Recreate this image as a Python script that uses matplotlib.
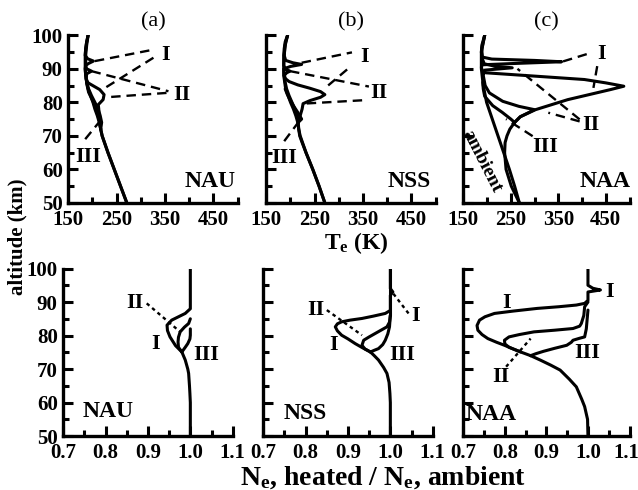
import matplotlib
matplotlib.use("Agg")
import matplotlib.pyplot as plt
from matplotlib.ticker import MultipleLocator, FixedLocator
from matplotlib.transforms import ScaledTranslation

plt.rcParams['font.family'] = ['Liberation Serif', 'DejaVu Serif']
plt.rcParams['font.weight'] = 'bold'
plt.rcParams['mathtext.fontset'] = 'custom'
plt.rcParams['mathtext.rm'] = 'Liberation Serif:bold'
plt.rcParams['mathtext.it'] = 'Liberation Serif:italic:bold'
plt.rcParams['font.size'] = 15

# ---------------- electron temperature (top row) ----------------
# (a) NAU
nau_amb_alt = [50, 55, 60, 65, 70, 72, 74, 76, 78, 80, 82, 84, 86, 88, 90, 92, 94, 96, 98, 100]
nau_amb_te = [271, 258, 245, 232, 220, 217, 214, 210, 205, 201, 196, 191, 188, 186, 185, 185, 185, 186, 188, 191]
nau_base_alt = [50, 55, 60, 65, 70, 72]
nau_base_te = [271, 258, 245, 232, 220, 217]
nau_I_alt = [72, 74, 76, 78, 79.3, 80.8, 82.3, 83.8, 85.8, 87, 88, 90, 91, 91.6, 92.3, 93, 94, 96, 98, 100]
nau_I_te = [217, 215, 213, 213, 212, 222, 224, 215, 191, 187, 186, 185, 186, 192, 202, 190, 185, 186, 188, 191]
nau_II_alt = [72, 74, 75.8, 78, 80, 81.8, 83, 85, 87, 88.5, 89.3, 90, 91, 94, 97, 100]
nau_II_te = [217, 215, 212, 207, 202, 196, 192, 189, 187, 188, 198, 188, 186, 186, 188, 191]
nau_III_alt = [72, 74, 76, 78, 80, 82, 84, 86]
nau_III_te = [217, 219, 216, 212, 205, 198, 192, 188]

# (b) NSS
nss_amb_alt = [50, 55, 60, 65, 70, 72, 74, 76, 78, 80, 82, 84, 86, 88, 90, 92, 94, 96, 98, 100]
nss_amb_te = [271, 259, 246, 232, 220, 217, 215, 211, 206, 200, 195, 190, 188, 186, 186, 186, 186, 187, 189, 194]
nss_base_alt = [50, 55, 60, 65, 68, 70, 72, 74]
nss_base_te = [271, 259, 246, 232, 224, 219, 217, 216]
nss_I_alt = [74, 76, 78, 79.6, 80.5, 81.5, 82.3, 83.2, 84.2, 85.2, 86.2, 87, 88, 90, 90.7, 91.3, 91.8,
             92.5, 94, 96, 98, 100]
nss_I_te = [216, 220, 224, 226, 240, 262, 271, 262, 240, 215, 197, 190, 187, 186, 200, 223, 205,
            190, 187, 188, 190, 194]
nss_II_alt = [74, 76, 78, 80, 82, 84, 86, 88, 88.8, 89.3, 89.8, 91, 94, 97, 100]
nss_II_te = [216, 214, 209, 203, 197, 192, 189, 187, 192, 199, 190, 186, 187, 189, 194]
nss_III_alt = [74, 75, 77, 79, 81, 82.5, 84]
nss_III_te = [216, 223, 215, 206, 198, 193, 189]

# (c) NAA
naa_amb_alt = [50, 55, 60, 65, 70, 75, 80, 85, 90, 95, 100]
naa_amb_te = [268, 258, 247, 235, 223, 211, 199, 192, 188, 188, 195]
naa_base_alt = [50, 55, 60, 65, 68, 70, 72, 74]
naa_base_te = [268, 251, 240, 237, 238, 242, 248, 258]
naa_I_alt = [74, 75.7, 77.8, 80.8, 83.8, 84.8, 85.8, 86.8, 87.8, 88.8, 89.5, 90.5, 91.2, 91.6, 92.1,
             92.5, 92.9, 93.5, 95, 97, 100]
naa_I_te = [258, 270, 302, 370, 460, 488, 450, 405, 302, 198, 190, 188, 190, 260, 357,
            300, 210, 190, 188, 189, 195]
naa_II_alt = [74, 75.7, 77.8, 78.8, 80.3, 82.8, 85, 88, 89.6, 90.3, 90.8, 91.5, 93, 96, 100]
naa_II_te = [258, 270, 300, 267, 233, 205, 196, 192, 195, 253, 215, 194, 190, 189, 195]
naa_III_alt = [74, 75, 77, 79, 81.8, 84, 86]
naa_III_te = [258, 250, 232, 212, 195, 192, 191]

# ---------------- Ne heated / Ne ambient (bottom row) ----------------
# (d) NAU
nau_ne_base_alt = [50, 55, 60, 62.7, 65, 68.7, 70, 72.7, 75.1]
nau_ne_base = [1.0, 1.0, 1.0, 0.999, 0.998, 0.996, 0.994, 0.988, 0.980]
nau_ne_I_alt = [75.1, 77, 79.6, 81.5, 83.1, 84.6, 85.6, 86.6, 88, 100]
nau_ne_I = [0.980, 0.965, 0.952, 0.946, 0.945, 0.956, 0.972, 0.988, 1.0, 1.0]
nau_ne_II_alt = [75.1, 76.5, 78.1, 79.5, 81.1, 82.5, 83.6, 85]
nau_ne_II = [0.980, 0.972, 0.971, 0.972, 0.976, 0.986, 0.996, 1.0]
nau_ne_III_alt = [75.1, 76.5, 77.6, 79, 80.1, 82]
nau_ne_III = [0.980, 0.988, 0.994, 0.999, 1.0, 1.0]

# (e) NSS
nss_ne_base_alt = [50, 60, 62.7, 66, 68.7, 70.5, 72.7, 74, 75.1]
nss_ne_base = [1.0, 1.0, 0.999, 0.997, 0.992, 0.984, 0.972, 0.962, 0.953]
nss_ne_I_alt = [75.1, 76.3, 77.6, 79, 80.1, 81.4, 82.6, 83.5, 84.1, 84.6, 85.1, 85.8, 86.6, 87.5,
                92, 93, 94, 100]
nss_ne_I = [0.953, 0.935, 0.917, 0.900, 0.885, 0.875, 0.870, 0.875, 0.885, 0.905, 0.933, 0.960,
            0.988, 1.0, 1.0, 1.006, 1.0, 1.0]
nss_ne_II_alt = [75.1, 76, 77.1, 78.6, 79.6, 80.6, 81.6, 82.6, 84, 86]
nss_ne_II = [0.953, 0.940, 0.933, 0.937, 0.950, 0.964, 0.978, 0.992, 0.998, 1.0]
nss_ne_III_alt = [75.1, 75.6, 76.1, 77.3, 78.6, 80.5, 82.6, 86]
nss_ne_III = [0.953, 0.962, 0.972, 0.982, 0.988, 0.994, 0.998, 1.0]

# (f) NAA
naa_ne_base_alt = [50, 55, 58.8, 61, 64.7, 67, 69.7, 71.2, 72.7, 74]
naa_ne_base = [1.0, 0.999, 0.992, 0.985, 0.972, 0.955, 0.933, 0.910, 0.885, 0.862]
naa_ne_I_alt = [74, 75.1, 76, 77.1, 78, 79.1, 80.3, 81.6, 83, 84.6, 85.6, 86.6, 87.3, 88.1, 88.6,
                89.1, 89.6, 90.5, 93, 93.3, 93.6, 94.1, 95, 100]
naa_ne_I = [0.862, 0.838, 0.820, 0.799, 0.780, 0.759, 0.745, 0.735, 0.733, 0.739, 0.752, 0.775,
            0.820, 0.878, 0.930, 0.972, 0.992, 1.0, 1.0, 1.015, 1.030, 1.012, 1.0, 1.0]
naa_ne_II_alt = [75.1, 76.5, 77.5, 78.6, 79.6, 80.3, 81.1, 81.6, 82.1, 82.8, 83.6, 86, 88.6, 90]
naa_ne_II = [0.838, 0.810, 0.800, 0.799, 0.810, 0.835, 0.870, 0.920, 0.964, 0.980, 0.984, 0.990,
             0.992, 1.0]
naa_ne_III_alt = [74, 74.6, 75.3, 76.2, 77.1, 78, 78.6, 79.2, 79.6, 82, 87.6]
naa_ne_III = [0.862, 0.875, 0.893, 0.920, 0.949, 0.960, 0.964, 0.980, 0.992, 0.996, 1.0]


LW = 2.2
TXT = 16


def style(ax, top):
    for s in ['top', 'right']:
        ax.spines[s].set_visible(False)
    for s in ['left', 'bottom']:
        ax.spines[s].set_linewidth(2.4)
    ax.set_ylim(50, 100)
    ax.yaxis.set_major_locator(MultipleLocator(10))
    ax.yaxis.set_minor_locator(MultipleLocator(5))
    if top:
        ax.set_xlim(150, 500)
        ax.xaxis.set_major_locator(FixedLocator([150, 250, 350, 450]))
        ax.xaxis.set_minor_locator(FixedLocator([200, 300, 400, 500]))
    else:
        ax.set_xlim(0.7, 1.1)
        ax.xaxis.set_major_locator(FixedLocator([0.7, 0.8, 0.9, 1.0, 1.1]))
        ax.xaxis.set_minor_locator(FixedLocator([0.75, 0.85, 0.95, 1.05]))
        ax.xaxis.set_major_formatter(plt.FuncFormatter(lambda v, p: f"{v:.1f}"))
    ax.tick_params(which='major', direction='in', length=7, width=2.2, labelsize=15, pad=5)
    ax.tick_params(axis='y', which='major', pad=4)
    ax.tick_params(which='minor', direction='in', length=4, width=2.2)


def curve(ax, x, y):
    ax.plot(x, y, color='black', lw=LW, solid_joinstyle='round', solid_capstyle='round')


def lead(ax, x0, y0, x1, y1, dash=(4, 2.5)):
    ax.plot([x0, x1], [y0, y1], color='black', lw=1.7, dashes=dash)


def label(ax, x, y, s, size=TXT, **kw):
    ax.text(x, y, s, ha='center', va='center', fontsize=size, **kw)


def nudge(lbl, dx, dy):
    lbl.set_transform(lbl.get_transform() + ScaledTranslation(dx / 72, dy / 72, fig.dpi_scale_trans))


fig = plt.figure(figsize=(6.38, 4.90), dpi=100)
W = 0.2655
WR = 0.2605
H = 0.342
axa = fig.add_axes([0.107, 0.586, W, H])
axb = fig.add_axes([0.4174, 0.586, W, H])
axc = fig.add_axes([0.7262, 0.586, WR, H])
axd = fig.add_axes([0.0992, 0.110, W, H])
axe = fig.add_axes([0.4127, 0.110, W, H])
axf = fig.add_axes([0.7262, 0.110, WR, H])

for ax in (axa, axb, axc):
    style(ax, True)
for ax in (axd, axe, axf):
    style(ax, False)
for ax in (axb, axc, axe, axf):
    ax.tick_params(axis='y', labelleft=False)

# ----- (a) -----
curve(axa, nau_amb_te, nau_amb_alt)
curve(axa, nau_base_te, nau_base_alt)
curve(axa, nau_I_te, nau_I_alt)
curve(axa, nau_II_te, nau_II_alt)
curve(axa, nau_III_te, nau_III_alt)
lead(axa, 205, 92.3, 329, 95.8)
lead(axa, 326, 93.3, 226, 84.3)
lead(axa, 198, 89.3, 357, 83.3)
lead(axa, 353, 82.8, 228, 81.5)
lead(axa, 185, 69.0, 215, 74.3)
label(axa, 352, 94.0, 'I')
label(axa, 384, 82.3, 'II')
label(axa, 191, 63.6, 'III')
label(axa, 443, 56.3, 'NAU', size=17)
axa.set_title('(a)', fontsize=16, pad=6)

# ----- (b) -----
curve(axb, nss_amb_te, nss_amb_alt)
curve(axb, nss_base_te, nss_base_alt)
curve(axb, nss_I_te, nss_I_alt)
curve(axb, nss_II_te, nss_II_alt)
curve(axb, nss_III_te, nss_III_alt)
lead(axb, 223, 91.8, 327, 94.9)
lead(axb, 317, 89.8, 271, 84.2)
lead(axb, 199, 89.3, 362, 84.7)
lead(axb, 348, 80.6, 226, 79.6)
lead(axb, 187, 68.4, 216, 74)
label(axb, 353, 93.4, 'I')
label(axb, 382, 82.7, 'II')
label(axb, 186, 63.3, 'III')
label(axb, 446, 56.3, 'NSS', size=17)
axb.set_title('(b)', fontsize=16, pad=6)

# ----- (c) -----
curve(axc, naa_amb_te, naa_amb_alt)
curve(axc, naa_base_te, naa_base_alt)
curve(axc, naa_I_te, naa_I_alt)
curve(axc, naa_II_te, naa_II_alt)
curve(axc, naa_III_te, naa_III_alt)
lead(axc, 360, 92.2, 415, 94.6)
lead(axc, 432, 90.8, 424, 84.3)
lead(axc, 395, 74.9, 264, 90.0)
lead(axc, 395, 74.3, 329, 76.9)
lead(axc, 296, 69.9, 240, 75)
label(axc, 441, 94.3, 'I')
label(axc, 418, 73.2, 'II')
label(axc, 322, 66.8, 'III')
label(axc, 448, 56.3, 'NAA', size=17)
label(axc, 189, 62.5, 'ambient', size=14, rotation=-63, rotation_mode='anchor')
axc.set_title('(c)', fontsize=16, pad=6)

# ----- (d) -----
curve(axd, nau_ne_base, nau_ne_base_alt)
curve(axd, nau_ne_I, nau_ne_I_alt)
curve(axd, nau_ne_II, nau_ne_II_alt)
curve(axd, nau_ne_III, nau_ne_III_alt)
lead(axd, 0.897, 89.6, 0.976, 81.1, dash=(1.5, 1.5))
label(axd, 0.868, 89.6, 'II')
label(axd, 0.917, 77.6, 'I')
label(axd, 1.037, 74.2, 'III')
label(axd, 0.807, 57.3, 'NAU', size=17)

# ----- (e) -----
curve(axe, nss_ne_base, nss_ne_base_alt)
curve(axe, nss_ne_I, nss_ne_I_alt)
curve(axe, nss_ne_II, nss_ne_II_alt)
curve(axe, nss_ne_III, nss_ne_III_alt)
curve(axe, [1.0, 1.0], [86, 100])
lead(axe, 0.85, 87.6, 0.933, 80.1, dash=(1.5, 1.5))
lead(axe, 1.043, 86.6, 1.004, 93, dash=(1.5, 1.5))
label(axe, 0.824, 87.6, 'II')
label(axe, 0.866, 77.1, 'I')
label(axe, 1.06, 85.8, 'I')
label(axe, 1.029, 74.2, 'III')
label(axe, 0.80, 56.8, 'NSS', size=17)

# ----- (f) -----
curve(axf, naa_ne_base, naa_ne_base_alt)
curve(axf, naa_ne_I, naa_ne_I_alt)
curve(axf, naa_ne_II, naa_ne_II_alt)
curve(axf, naa_ne_III, naa_ne_III_alt)
lead(axf, 0.803, 70.7, 0.862, 79.1, dash=(1.5, 1.5))
label(axf, 0.803, 89.6, 'I')
label(axf, 1.053, 93, 'I')
label(axf, 0.791, 67.5, 'II')
label(axf, 0.998, 74.7, 'III')
label(axf, 0.768, 56.3, 'NAA', size=17)

# keep the last "1.1" inside the figure, as in the reference
last = axf.xaxis.get_major_ticks()[-1].label1
last.set_horizontalalignment('right')
nudge(last, 7, 0)
# lift the corner "50" labels a touch so they clear the x labels
for ax in (axa, axd):
    nudge(ax.yaxis.get_major_ticks()[0].label1, 0, 2.5)

fig.text(0.558, 0.503, r'T$_\mathrm{e}$ (K)', ha='center', va='center', fontsize=17)
fig.text(0.600, 0.026, r'N$_\mathrm{e}$, heated / N$_\mathrm{e}$, ambient', ha='center',
         va='center', fontsize=20)
fig.text(0.027, 0.516, 'altitude (km)', ha='center', va='center', rotation=90, fontsize=15)

fig.savefig('out.png', dpi=100)
